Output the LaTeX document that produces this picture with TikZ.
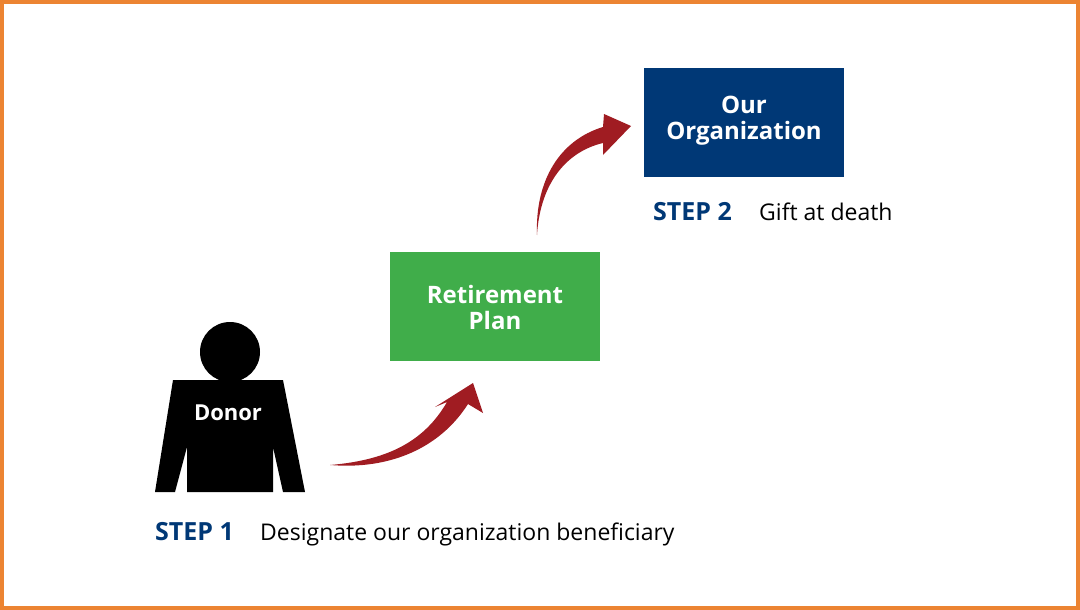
\documentclass[tikz,border=0pt]{standalone}
\usepackage{fontspec}
\setmainfont{Open Sans}
\definecolor{frameO}{RGB}{236,132,50}
\definecolor{planG}{RGB}{64,173,74}
\definecolor{orgB}{RGB}{0,56,118}
\definecolor{arrowR}{RGB}{160,28,34}
\begin{document}
\begin{tikzpicture}[x=1pt,y=-1pt,
  box/.style={inner sep=0pt,align=center,text=white,font=\fontsize{24}{30}\selectfont\bfseries},
  steplabel/.style={anchor=base west,inner sep=0pt,text=orgB,font=\fontsize{25}{30}\selectfont\bfseries},
  desc/.style={anchor=base west,inner sep=0pt,font=\fontsize{23}{28}\selectfont},
  swoosh/.style={fill=arrowR,draw=none}]

\useasboundingbox (0,0) rectangle (1080,610);
\draw[frameO,line width=4] (2,2) rectangle (1078,608);

% boxes
\fill[planG] (390,252) rectangle (600,361);
\node[box] (plan) at (495,307) {Retirement\\[-4pt]Plan};
\fill[orgB] (644,68) rectangle (844,177);
\node[box] (org) at (744,121) {Our\\[-4pt]Organization};

% donor
\fill (230,352) circle (30);
\fill (173,380) -- (283,380) -- (305,492) -- (283,492) -- (273,447) -- (273,492)
  -- (187,492) -- (187,447) -- (175,492) -- (155,492) -- cycle;
\node[box,font=\fontsize{22}{26}\selectfont\bfseries] (donor) at (228,413) {Donor};

% arrows
\fill[swoosh] (330,465) .. controls (390,460) and (425,440) .. (447,402) -- (435,407)
  -- (473,383) -- (483,413) -- (468,404) .. controls (440,448) and (390,470) .. (330,465);
\fill[swoosh] (537,235) .. controls (535,180) and (560,140) .. (603,127) -- (604,114)
  -- (631,126) -- (603,155) -- (603,143) .. controls (565,152) and (540,185) .. (537,235);

% labels
\node[steplabel] (s1) at (155,540) {STEP 1};
\node[desc] (d1) at (260,540) {Designate our organization beneficiary};
\node[steplabel] (s2) at (653,220) {STEP 2};
\node[desc] (d2) at (759,220) {Gift at death};
\end{tikzpicture}
\end{document}
